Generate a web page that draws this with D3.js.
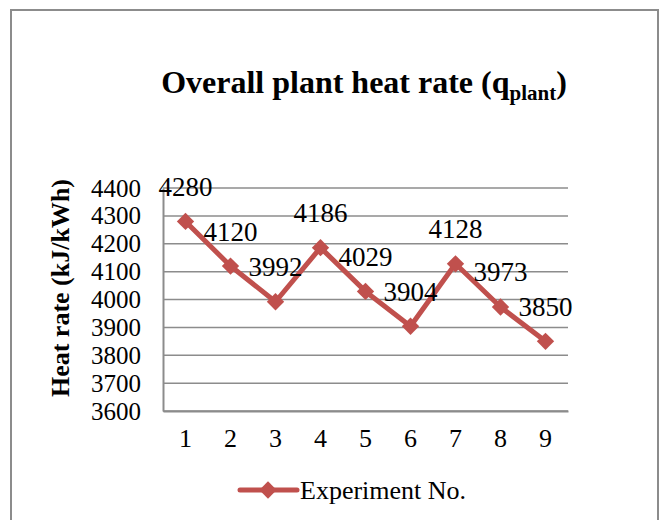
<!DOCTYPE html>
<html>
<head>
<meta charset="utf-8">
<script src="https://cdn.jsdelivr.net/npm/d3@7"></script>
<style>
  body { margin: 0; background: #fff; }
  svg { display: block; }
  svg text { font-family: "Liberation Serif", "Times New Roman", serif; }
</style>
</head>
<body>
<script>
// chart data
var experiments = [1, 2, 3, 4, 5, 6, 7, 8, 9];
var heatRate = [4280, 4120, 3992, 4186, 4029, 3904, 4128, 3973, 3850];
var yTicks = [3600, 3700, 3800, 3900, 4000, 4100, 4200, 4300, 4400];
var seriesName = 'Experiment No.';

var red = '#c0504d';
var grid = '#8c8c8c';
var serif = '"Liberation Serif", "Times New Roman", serif';

var svg = d3.select('body').append('svg')
    .attr('width', 668)
    .attr('height', 520);

// outer chart border
svg.append('rect')
    .attr('x', 11).attr('y', 10)
    .attr('width', 647).attr('height', 530)
    .attr('fill', '#fff')
    .attr('stroke', grid)
    .attr('stroke-width', 2);

var x = d3.scaleBand()
    .domain(experiments)
    .range([163, 568])
    .padding(0);

var y = d3.scaleLinear()
    .domain([3600, 4400])
    .range([411, 188]);

function cx(d) { return x(d) + x.bandwidth() / 2; }

// gridlines
svg.append('g').selectAll('line')
    .data(yTicks)
    .enter()
    .append('line')
    .attr('x1', 163).attr('x2', 568)
    .attr('y1', function(d) { return y(d); })
    .attr('y2', function(d) { return y(d); })
    .attr('stroke', grid)
    .attr('stroke-width', 1.5);

// y axis
var yAxis = svg.append('g')
    .attr('transform', 'translate(163,0)')
    .call(d3.axisLeft(y).tickValues(yTicks).tickSize(0).tickPadding(22).tickFormat(d3.format('d')));
yAxis.attr('font-family', serif);
yAxis.select('.domain').attr('stroke', grid).attr('stroke-width', 2);
yAxis.selectAll('text')
    .attr('font-size', 25)
    .attr('fill', '#000');

// x axis
var xAxis = svg.append('g')
    .attr('transform', 'translate(0,411)')
    .call(d3.axisBottom(x).tickSize(0).tickPadding(18));
xAxis.attr('font-family', serif);
xAxis.select('.domain').attr('stroke', grid).attr('stroke-width', 2);
xAxis.selectAll('text')
    .attr('font-size', 26)
    .attr('fill', '#000');

// series line
var pts = experiments.map(function(e, i) { return { e: e, v: heatRate[i] }; });

svg.append('path')
    .datum(pts)
    .attr('fill', 'none')
    .attr('stroke', red)
    .attr('stroke-width', 5)
    .attr('stroke-linejoin', 'round')
    .attr('d', d3.line()
        .x(function(d) { return cx(d.e); })
        .y(function(d) { return y(d.v); }));

var diamond = d3.symbol().type(d3.symbolSquare).size(150);

svg.append('g').selectAll('path')
    .data(pts)
    .enter()
    .append('path')
    .attr('d', diamond)
    .attr('fill', red)
    .attr('transform', function(d) {
        return 'translate(' + cx(d.e) + ',' + y(d.v) + ') rotate(45)';
    });

// value labels
svg.append('g').selectAll('text')
    .data(pts)
    .enter()
    .append('text')
    .attr('x', function(d) { return cx(d.e); })
    .attr('y', function(d) { return y(d.v) - 35; })
    .attr('dy', '0.35em')
    .attr('text-anchor', 'middle')
    .attr('font-size', 27)
    .attr('fill', '#000')
    .text(function(d) { return d.v; });

// title
var title = svg.append('text')
    .attr('x', 364)
    .attr('y', 93)
    .attr('text-anchor', 'middle')
    .attr('font-size', 32)
    .attr('font-weight', 'bold')
    .attr('fill', '#000');
title.append('tspan').text('Overall plant heat rate (q');
title.append('tspan').attr('font-size', 21).attr('dy', 7).text('plant');
title.append('tspan').attr('dy', -7).text(')');

// y axis title
svg.append('text')
    .attr('transform', 'translate(69,288) rotate(-90)')
    .attr('text-anchor', 'middle')
    .attr('font-size', 26)
    .attr('font-weight', 'bold')
    .attr('fill', '#000')
    .text('Heat rate (kJ/kWh)');

// legend
var lg = svg.append('g');
lg.append('line')
    .attr('x1', 240).attr('x2', 297)
    .attr('y1', 490).attr('y2', 490)
    .attr('stroke', red)
    .attr('stroke-width', 5)
    .attr('stroke-linecap', 'round');
lg.append('path')
    .attr('d', diamond)
    .attr('fill', red)
    .attr('transform', 'translate(268,490) rotate(45)');
lg.append('text')
    .attr('x', 300)
    .attr('y', 499)
    .attr('font-size', 26)
    .attr('fill', '#000')
    .text(seriesName);
</script>
</body>
</html>
